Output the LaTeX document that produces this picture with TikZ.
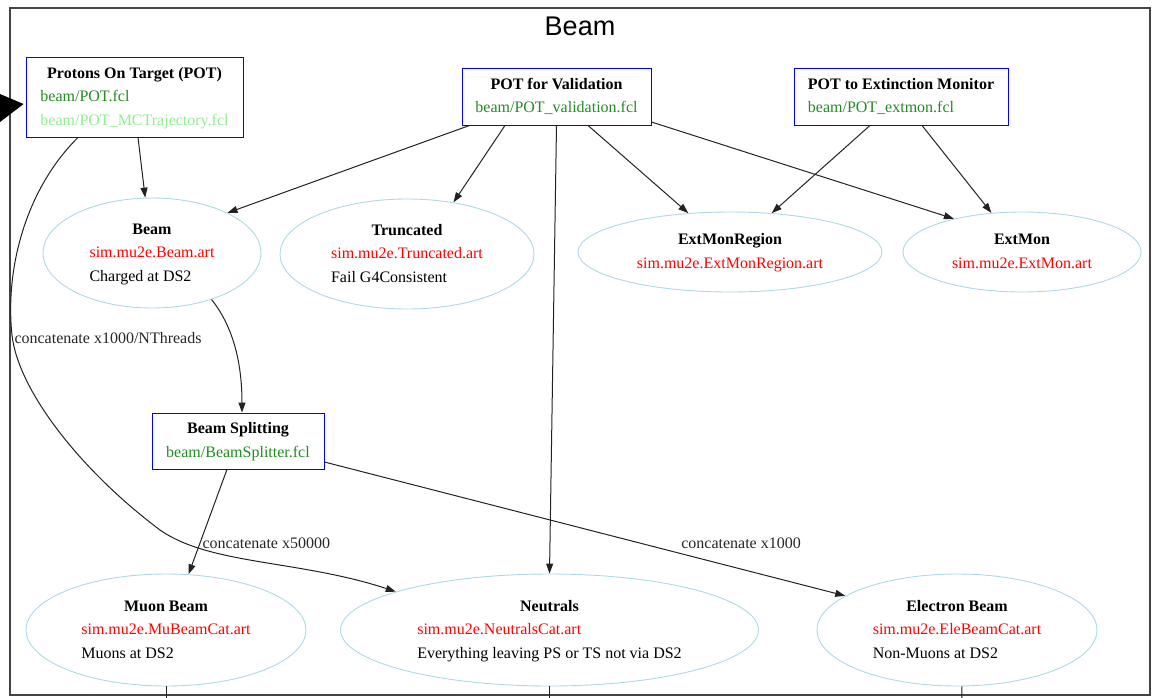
\documentclass[tikz,border=0pt]{standalone}
\usepackage{fontspec}
\setmainfont{Liberation Serif}
\newfontfamily\headfont{Liberation Sans}
\usetikzlibrary{arrows.meta,shapes.geometric}

\definecolor{fclgreen}{HTML}{228B22}
\definecolor{fcllight}{HTML}{90EE90}
\definecolor{artred}{HTML}{FF0000}
\definecolor{boxblue}{HTML}{0000FF}
\definecolor{ovalblue}{HTML}{ADD8E6}
\definecolor{framegray}{HTML}{444444}
\definecolor{edgegray}{HTML}{222222}

% stacked text lines inside a node: bold centred heading, left-aligned rest
\newcommand{\nodelines}[1]{\fontsize{16}{23.5}\selectfont\begin{tabular}{@{}l@{}}#1\end{tabular}}
\newcommand{\nodetitle}[1]{\multicolumn{1}{@{}c@{}}{\textbf{#1}}}

\tikzset{
  stepbox/.style={rectangle, draw=boxblue, line width=0.9pt, inner sep=0pt},
  oval/.style={ellipse, draw=ovalblue, line width=0.9pt, inner sep=0pt},
  edge/.style={draw=edgegray, line width=1pt, -{Triangle[length=10pt,width=7pt]}},
  stub/.style={draw=edgegray, line width=1pt},
  lbl/.style={font=\fontsize{16}{19}\selectfont, inner sep=2pt, text=black!85},
}

\begin{document}
\begin{tikzpicture}[x=1pt,y=-1pt]
\useasboundingbox (0,0) rectangle (1154,697);

% cluster frame and its title
\draw[framegray, line width=1.2pt] (10,8) rectangle (1150,695);
\node[font=\headfont\fontsize{27}{32}\selectfont] (title) at (580,26) {Beam};

% job configurations
\node[stepbox, minimum width=217pt, minimum height=80pt] (pot) at (134.5,97)
  {\nodelines{\nodetitle{Protons On Target (POT)}\\
   \textcolor{fclgreen}{beam/POT.fcl}\\
   \textcolor{fcllight}{beam/POT\_MCTrajectory.fcl}}};
\node[stepbox, minimum width=189pt, minimum height=57pt] (pfv) at (556.5,96.5)
  {\nodelines{\nodetitle{POT for Validation}\\
   \textcolor{fclgreen}{beam/POT\_validation.fcl}}};
\node[stepbox, minimum width=214pt, minimum height=57pt] (pte) at (901,96.5)
  {\nodelines{\nodetitle{POT to Extinction Monitor}\\
   \textcolor{fclgreen}{beam/POT\_extmon.fcl}}};
\node[stepbox, minimum width=172pt, minimum height=56pt] (bs) at (238,441)
  {\nodelines{\nodetitle{Beam Splitting}\\
   \textcolor{fclgreen}{beam/BeamSplitter.fcl}}};

% datasets
\node[oval, minimum width=218pt, minimum height=110pt] (beam) at (152,253)
  {\nodelines{\nodetitle{Beam}\\
   \textcolor{artred}{sim.mu2e.Beam.art}\\
   Charged at DS2}};
\node[oval, minimum width=254pt, minimum height=110pt] (trunc) at (407,254)
  {\nodelines{\nodetitle{Truncated}\\
   \textcolor{artred}{sim.mu2e.Truncated.art}\\
   Fail G4Consistent}};
\node[oval, minimum width=304pt, minimum height=80pt] (emr) at (730,252)
  {\nodelines{\nodetitle{ExtMonRegion}\\
   \textcolor{artred}{sim.mu2e.ExtMonRegion.art}}};
\node[oval, minimum width=238pt, minimum height=80pt] (extmon) at (1022,252)
  {\nodelines{\nodetitle{ExtMon}\\
   \textcolor{artred}{sim.mu2e.ExtMon.art}}};
\node[oval, minimum width=280pt, minimum height=112pt] (muon) at (166,630)
  {\nodelines{\nodetitle{Muon Beam}\\
   \textcolor{artred}{sim.mu2e.MuBeamCat.art}\\
   Muons at DS2}};
\node[oval, minimum width=418pt, minimum height=112pt] (neutrals) at (549.5,630)
  {\nodelines{\nodetitle{Neutrals}\\
   \textcolor{artred}{sim.mu2e.NeutralsCat.art}\\
   Everything leaving PS or TS not via DS2}};
\node[oval, minimum width=280pt, minimum height=112pt] (electron) at (957,630)
  {\nodelines{\nodetitle{Electron Beam}\\
   \textcolor{artred}{sim.mu2e.EleBeamCat.art}\\
   Non-Muons at DS2}};

% incoming connector from outside the frame
\coordinate (entry) at (-40,112);
\draw[draw=black, line width=1pt, -{Triangle[length=26pt,width=30pt]}]
  (entry) -- ([yshift=-7pt,xshift=-2pt]pot.west);

% connectors
\draw[edge] ([xshift=3.5pt]pot.south) -- (beam.97);
\draw[edge] ([xshift=-56.5pt]pot.south)
  .. controls (25,190) and (5,270) .. (12,335)
  node[lbl, anchor=west, yshift=-3pt] (lblthreads) {concatenate x1000/NThreads}
  .. controls (18,390) and (80,470) .. (160,530)
  .. controls (210,565) and (300,560) .. (neutrals.166);

\draw[edge] ([xshift=8pt]pfv.south west) -- (beam.28);
\draw[edge] ([xshift=-51.5pt]pfv.south) -- (trunc.48);
\draw[edge] (pfv.south) -- (neutrals.north);
\draw[edge] ([xshift=31.5pt]pfv.south) -- (emr.137);
\draw[edge] ([yshift=-25.5pt]pfv.east) -- (extmon.154);

\draw[edge] ([xshift=-31pt]pte.south) -- (emr.43);
\draw[edge] ([xshift=21pt]pte.south) -- (extmon.128);

\draw[edge] (beam.-38) .. controls (236,330) and (242,370) .. ([xshift=4pt]bs.north);

\draw[edge] ([xshift=-11pt]bs.south) --
  node[lbl, pos=0.7, anchor=west] (lblmu) {concatenate x50000} (muon.68);
\draw[edge] ([yshift=-21pt]bs.east) --
  node[lbl, pos=0.8, yshift=26pt] (lblele) {concatenate x1000} (electron.163);

% connectors leaving through the bottom of the frame
\coordinate (muonout) at (166,700);
\coordinate (neutout) at (549.5,700);
\coordinate (eleout) at (962,700);
\draw[stub] (muon.south) -- (muonout);
\draw[stub] (neutrals.south) -- (neutout);
\draw[stub] (electron.-85) -- (eleout);
\end{tikzpicture}
\end{document}
